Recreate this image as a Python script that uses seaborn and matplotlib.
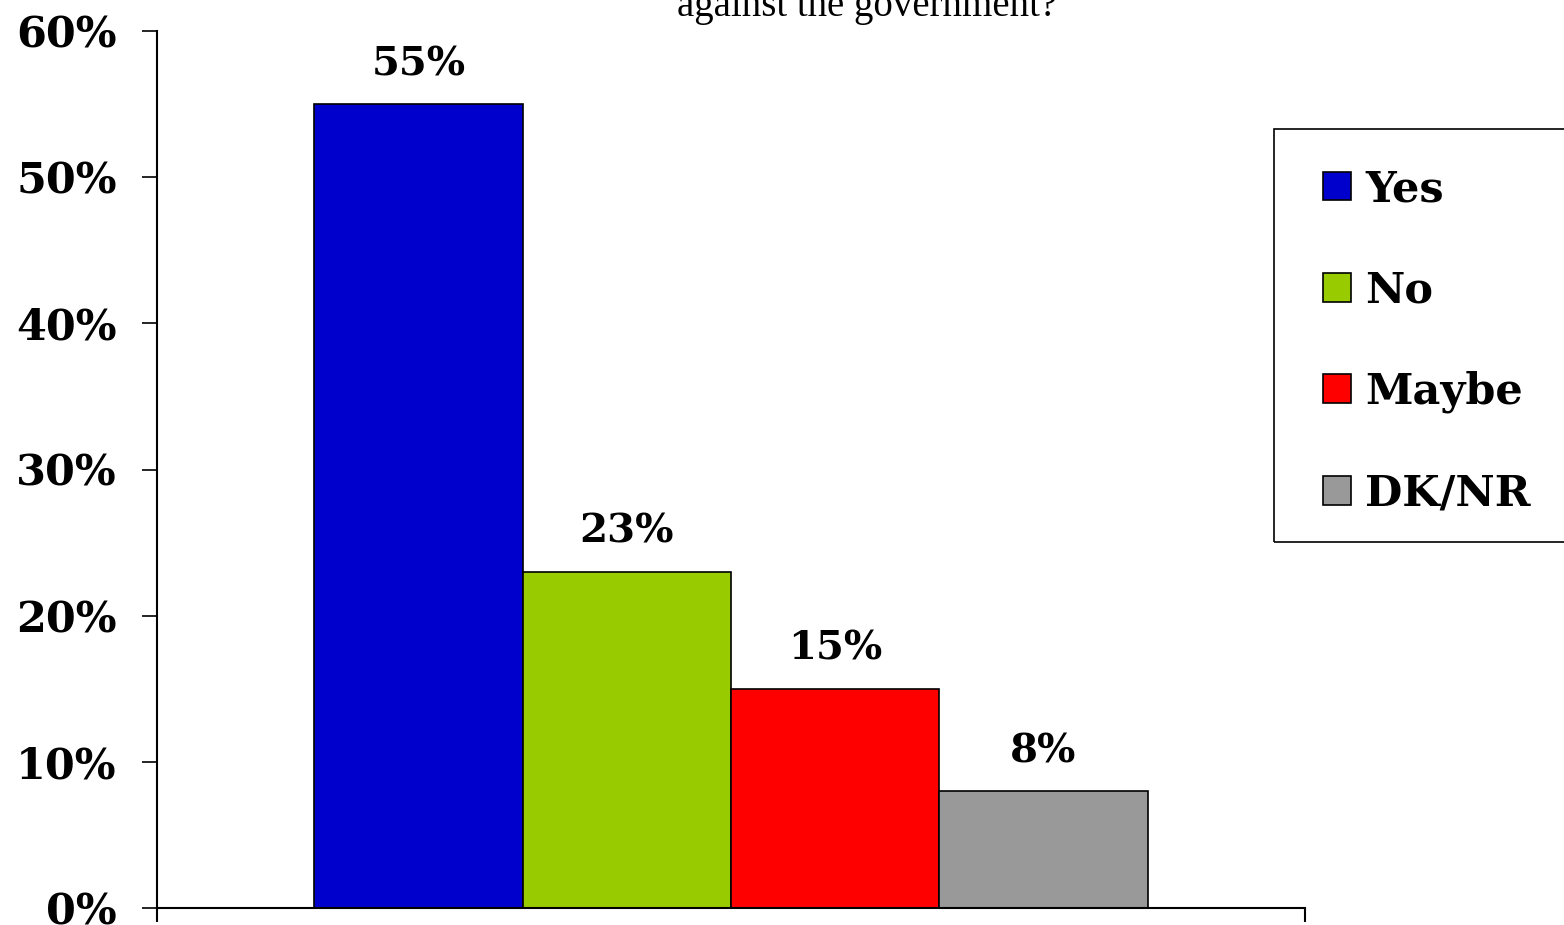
import pandas as pd
import numpy as np
import matplotlib
matplotlib.use("Agg")
import matplotlib.pyplot as plt
from matplotlib.patches import Rectangle
import seaborn as sns

# data
answers = ["Yes", "No", "Maybe", "DK/NR"]
shares = [0.55, 0.23, 0.15, 0.08]
bar_colors = ["#0000CC", "#99CC00", "#FF0000", "#999999"]
y_ticks = [0.0, 0.1, 0.2, 0.3, 0.4, 0.5, 0.6]
title_line = "against the government?"

df = pd.DataFrame({"group": ["all"] * len(answers), "answer": answers, "share": shares})

sns.set_style("white")
plt.rcParams["font.family"] = ["DejaVu Serif"]
plt.rcParams["text.color"] = "black"
plt.rcParams["ytick.color"] = "black"
plt.rcParams["xtick.color"] = "black"

W, H = 1564, 925
fig = plt.figure(figsize=(W / 100, H / 100), dpi=100)
ax = fig.add_axes([157 / W, 1 - 908 / H, (1305 - 157) / W, (908 - 31) / H])

sns.barplot(
    data=df, x="group", y="share", hue="answer",
    hue_order=answers, palette=bar_colors, saturation=1,
    width=0.726, edgecolor="black", linewidth=1.2,
    errorbar=None, ax=ax, legend=False,
)

# value labels above bars
for cont in ax.containers:
    ax.bar_label(cont, labels=[f"{v * 100:.0f}%" for v in cont.datavalues],
                 padding=15, fontsize=29, fontweight="bold", color="black")

ax.set_xlim(-0.5, 0.5)
ax.set_ylim(0, 0.6)
ax.set_yticks(y_ticks)
ax.set_yticklabels([f"{t * 100:.0f}%" for t in y_ticks], fontsize=31, fontweight="bold")
ax.set_xticks([-0.5, 0.5])
ax.set_xticklabels(["", ""])
ax.set_xlabel("")
ax.set_ylabel("")
ax.tick_params(axis="y", direction="out", length=11, width=1.2, pad=18, left=True)
ax.tick_params(axis="x", direction="out", length=10, width=1.5, bottom=True)
for side in ["top", "right"]:
    ax.spines[side].set_visible(False)
for side in ["left", "bottom"]:
    ax.spines[side].set_color("black")
    ax.spines[side].set_linewidth(1.5)

# legend frame drawn by hand (it runs off the right edge in the reference)
fig.patches.append(Rectangle((1274 / W, 1 - 542 / H), (1600 - 1274) / W, (542 - 129) / H,
                             transform=fig.transFigure, fill=False,
                             edgecolor="black", linewidth=1.2))

handles = [cont.patches[0] for cont in ax.containers]
leg = fig.legend(
    handles, answers, loc="upper left", bbox_to_anchor=(1323 / W, 1 - 168 / H),
    prop={"family": "DejaVu Serif", "weight": "bold", "size": 31},
    frameon=False, handlelength=0.65, handleheight=0.65, handletextpad=0.33,
    labelspacing=1.38, borderpad=0, borderaxespad=0,
)

# title, partly cut off at the top like the reference
fig.text(867 / W, 1 - 16 / H, title_line, ha="center", va="baseline",
         fontsize=28, family="Liberation Serif")

fig.savefig("out.png", dpi=100)
